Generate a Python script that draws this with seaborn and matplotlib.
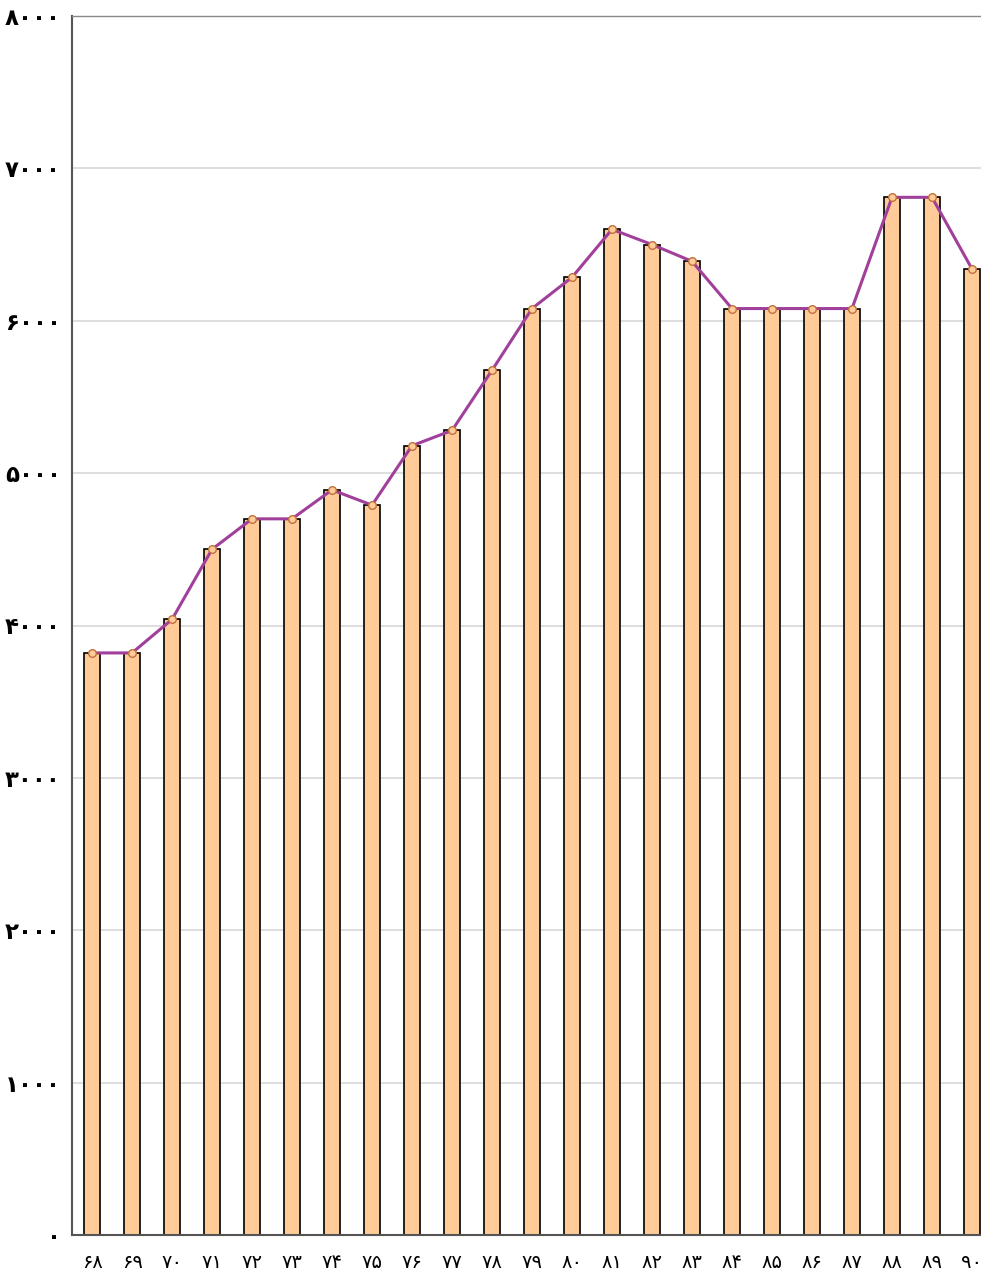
import numpy as np
import pandas as pd

import matplotlib as mpl
import matplotlib.pyplot as plt

import seaborn as sns

FA_DIGITS = str.maketrans('0123456789', '۰۱۲۳۴۵۶۷۸۹')

years = [68, 69, 70, 71, 72, 73, 74, 75, 76, 77, 78, 79,
         80, 81, 82, 83, 84, 85, 86, 87, 88, 89, 90]
values = [3820, 3820, 4040, 4500, 4700, 4700, 4890, 4790, 5180, 5280, 5675, 6080,
          6285, 6600, 6500, 6390, 6080, 6080, 6080, 6080, 6810, 6810, 6340]
y_ticks = [0, 1000, 2000, 3000, 4000, 5000, 6000, 7000, 8000]

BAR_COLOR = '#ffcc99'
LINE_COLOR = '#a0409a'


def fa(n):
    return str(n).translate(FA_DIGITS)


def main():
    sns.set_theme(style='white')
    plt.rcParams['font.family'] = ['DejaVu Sans']

    df = pd.DataFrame({'year': [fa(y) for y in years], 'value': values})

    fig = plt.figure(figsize=(9.81, 12.72), dpi=100)
    ax = fig.add_axes([72 / 981, 37 / 1272, 909 / 981, 1219 / 1272])

    sns.barplot(data=df, x='year', y='value', color=BAR_COLOR, width=0.4,
                edgecolor='black', linewidth=1.2, saturation=1, ax=ax, zorder=2)
    sns.lineplot(x=np.arange(len(values)), y=values, color=LINE_COLOR,
                 linewidth=2.2, marker='o', markersize=5.5,
                 markerfacecolor=BAR_COLOR, markeredgecolor='#c0703a',
                 markeredgewidth=1, ax=ax, zorder=3)

    ax.set_xlim(-0.5, len(values) - 1 + 0.225)
    ax.set_ylim(0, 8000)
    ax.set_yticks(y_ticks)
    ax.set_yticklabels([fa(t) for t in y_ticks], fontsize=16.5, fontweight='bold')
    ax.set_xticks(np.arange(len(years)))
    ax.set_xticklabels([fa(y) for y in years], fontsize=14)
    ax.tick_params(axis='both', length=0, colors='black')
    ax.tick_params(axis='x', pad=13)
    ax.tick_params(axis='y', pad=8)
    ax.yaxis.grid(True, color='#d8d8d8', linewidth=1.2, zorder=0)
    ax.set_axisbelow(True)
    ax.set_xlabel('')
    ax.set_ylabel('')

    for side in ['left', 'bottom', 'top']:
        ax.spines[side].set_visible(True)
        ax.spines[side].set_color('#555555')
        ax.spines[side].set_linewidth(1.5)
    ax.spines['top'].set_color('#888888')
    ax.spines['top'].set_linewidth(1)
    ax.spines['right'].set_visible(False)

    plt.savefig('out.png', dpi=100)


if __name__ == "__main__":
    main()
